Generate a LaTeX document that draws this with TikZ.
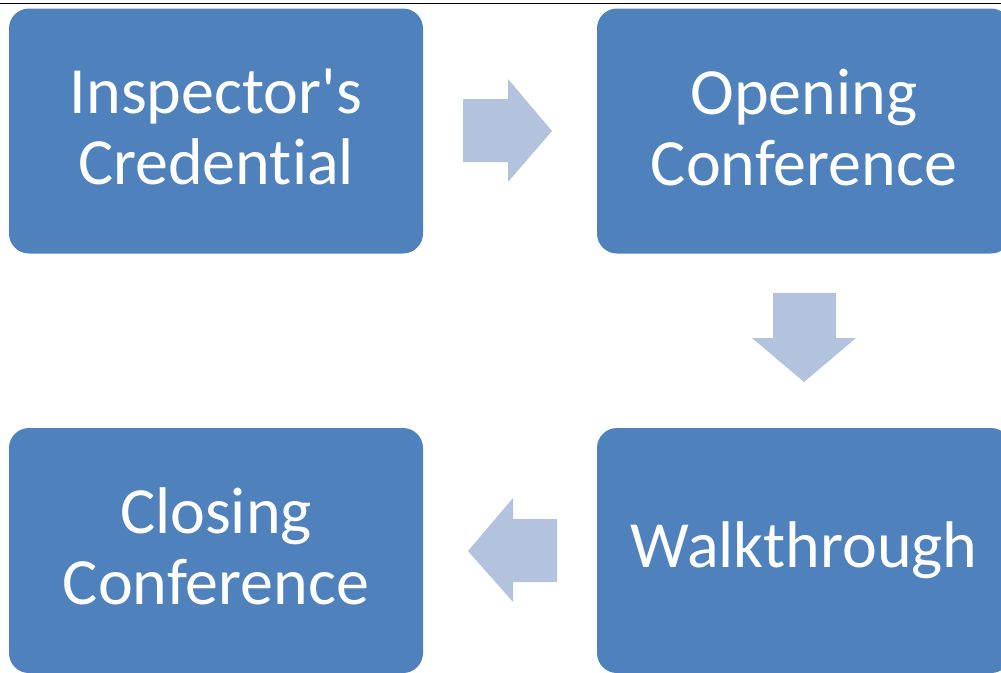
\documentclass[tikz,border=0pt]{standalone}
\usepackage{fontspec}
\setmainfont{Carlito}[Ligatures={TeXOff,NoCommon}]
\definecolor{boxblue}{HTML}{4F81BD}
\definecolor{arrowblue}{HTML}{B3C3DE}

\begin{document}
\begin{tikzpicture}[x=1pt,y=-1pt,
  stepbox/.style={fill=boxblue, rounded corners=20pt, minimum width=414pt, minimum height=245pt,
    inner sep=0pt, text=white, align=center, font=\fontsize{66}{71}\selectfont},
  twoline/.style={text depth=8pt},
  blockarrow/.style={fill=arrowblue}]
  \useasboundingbox (0,0) rectangle (1001,672);
  \clip (0,0) rectangle (1001,672);
  \fill (0,2.8) rectangle (1001,4.2);
  \node[stepbox,twoline] (cred) at (216,131) {Inspector's\\Credential};
  \node[stepbox,twoline] (open) at (804,131) {Opening\\Conference};
  \node[stepbox] (walk) at (804,550.5) {Walkthrough};
  \node[stepbox,twoline] (close) at (216,550.5) {Closing\\Conference};
  % arrows between the steps
  \fill[blockarrow] (463,99) -- (508,99) -- (508,79) -- (552,131) -- (508,182) -- (508,162) -- (463,162) -- cycle;
  \fill[blockarrow] (773,293) -- (836,293) -- (836,338) -- (856,338) -- (804,382) -- (752,338) -- (773,338) -- cycle;
  \fill[blockarrow] (557,519) -- (513,519) -- (513,498) -- (468,551) -- (513,602) -- (513,582) -- (557,582) -- cycle;
\end{tikzpicture}
\end{document}
